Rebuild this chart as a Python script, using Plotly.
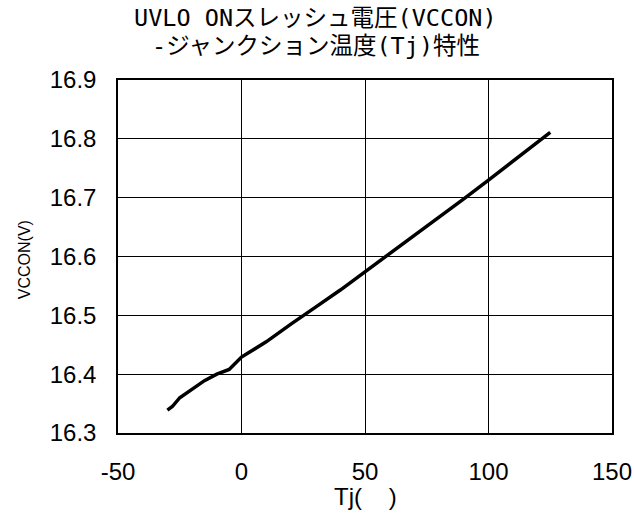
import plotly.graph_objects as go

# Junction temperature (°C)
tj = [-30, -28, -25, -20, -15, -10, -5, 0, 10, 20, 25, 30, 40, 50, 60, 70, 75, 80, 90, 100, 110, 120, 125]
# UVLO ON threshold voltage VCCON (V)
vccon = [16.339, 16.345, 16.360, 16.375, 16.389, 16.400, 16.408, 16.429, 16.455, 16.485, 16.500,
         16.514, 16.543, 16.574, 16.604, 16.635, 16.651, 16.667, 16.698, 16.730, 16.762, 16.795, 16.811]

x_ticks = [-50, 0, 50, 100, 150]
x_tick_labels = ["-50", "0", "50", "100", "150"]
y_ticks = [16.3, 16.4, 16.5, 16.6, 16.7, 16.8, 16.9]
y_tick_labels = ["16.3", "16.4", "16.5", "16.6", "16.7", "16.8", "16.9"]

title_lines = ["UVLO ONスレッシュ電圧(VCCON)", "-ジャンクション温度(Tj)特性"]
x_title = "Tj(    )"
y_title = "VCCON(V)"

NARROW = "Liberation Sans Narrow, Arial Narrow, Liberation Sans, Arial, sans-serif"
tick_font = dict(family=NARROW, size=24, color="black")

fig = go.Figure()
fig.add_trace(go.Scatter(x=tj, y=vccon, mode="lines",
                         line=dict(color="black", width=3.5), showlegend=False))

fig.update_layout(
    width=634, height=517,
    margin=dict(l=118, r=22, t=80, b=84),
    paper_bgcolor="white", plot_bgcolor="white",
    xaxis=dict(range=[-50, 150], tickvals=x_ticks, ticktext=x_tick_labels, ticks="",
               ticklabelstandoff=16, automargin=False,
               showgrid=True, gridcolor="black", gridwidth=1, zeroline=False,
               showline=True, linecolor="black", linewidth=1.5, mirror=True,
               tickfont=tick_font),
    yaxis=dict(range=[16.3, 16.9], tickvals=y_ticks, ticktext=y_tick_labels, ticks="",
               ticklabelstandoff=15, automargin=False,
               showgrid=True, gridcolor="black", gridwidth=1, zeroline=False,
               showline=True, linecolor="black", linewidth=1.5, mirror=True,
               tickfont=tick_font),
)

title_font = dict(family="DejaVu Sans Mono, Noto Sans CJK JP", size=23.5, color="black")
fig.add_annotation(text=title_lines[0], xref="paper", yref="paper", x=0.4008, y=1.1756,
                   xanchor="center", yanchor="middle", showarrow=False, font=title_font)
fig.add_annotation(text=title_lines[1], xref="paper", yref="paper", x=0.4008, y=1.096,
                   xanchor="center", yanchor="middle", showarrow=False, font=title_font)
fig.add_annotation(text=x_title, xref="paper", yref="paper", x=0.5, y=-0.181,
                   xanchor="center", yanchor="middle", showarrow=False,
                   font=dict(family=NARROW, size=24, color="black"))
fig.add_annotation(text=y_title, xref="paper", yref="paper", x=-0.19, y=0.49,
                   xanchor="center", yanchor="middle", showarrow=False, textangle=-90,
                   font=dict(family=NARROW, size=16, color="black"))

fig.write_html("out.html", config={"displayModeBar": False},
               post_script="document.body.style.margin='0';")
